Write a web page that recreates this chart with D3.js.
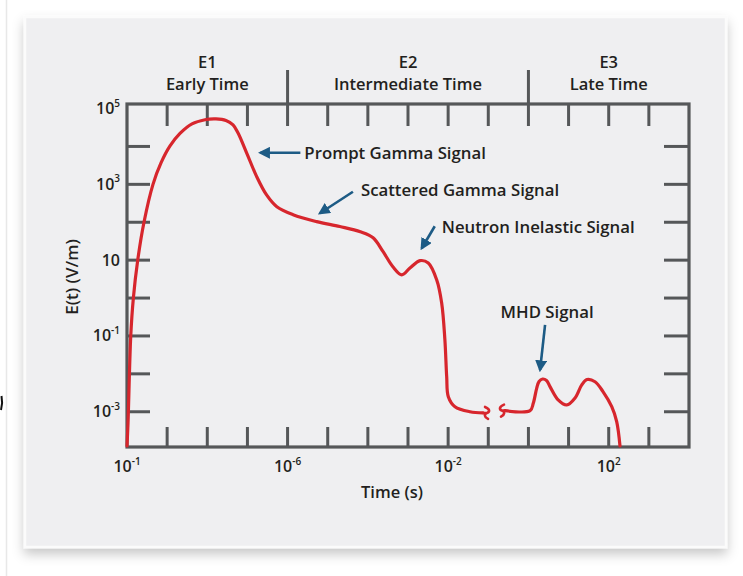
<!DOCTYPE html>
<html>
<head>
<meta charset="utf-8">
<script src="https://cdn.jsdelivr.net/npm/d3@7"></script>
<style>
  html, body { margin: 0; padding: 0; background: #ffffff; }
  svg { display: block; font-family: "Open Sans", "Noto Sans", sans-serif; }
</style>
</head>
<body>
<svg id="chart" width="743" height="576"></svg>
<script>
// Electric field E(t) (V/m) against time (s), drawn in two pieces around the axis break
const earlyTime  = [1.0e-10, 1.06e-10, 1.24e-10, 1.44e-10, 1.85e-10, 2.65e-10, 4.44e-10, 7.03e-10, 1.18e-9, 2.09e-9,
                    4.16e-9, 8.77e-9, 1.65e-8, 2.92e-8, 4.38e-8, 5.8e-8, 9.6e-8, 1.7e-7, 3.0e-7, 5.4e-7,
                    1.37e-6, 5.3e-6, 2.0e-5, 6.5e-5, 1.35e-4, 2.4e-4, 4.2e-4, 7.0e-4, 1.12e-3, 2.0e-3,
                    3.2e-3, 5.2e-3, 6.9e-3, 8.3e-3, 9.2e-3, 1.01e-2, 1.48e-2, 3.5e-2, 7.4e-2];
const earlyField = [1.25e-4, 5.06e-4, 0.1, 1, 10, 100, 1000, 3.67e3, 1.03e4, 2.2e4,
                    3.93e4, 5.07e4, 5.32e4, 4.85e4, 3.69e4, 2.3e4, 6.7e3, 1.6e3, 525, 257,
                    158, 104, 77, 56, 39, 16.7, 6.7, 4.1, 6.2, 9.7,
                    8.4, 3.0, 0.74, 0.079, 8.4e-3, 2.5e-3, 1.36e-3, 1.0e-3, 9.3e-4];
const lateTime   = [0.261, 1.10, 1.32, 1.61, 1.84, 2.25, 2.82, 3.45, 5.5, 9.0,
                    14.5, 21.3, 28.8, 45.6, 72, 119, 158, 191];
const lateField  = [1.07e-3, 1.07e-3, 1.67e-3, 4.2e-3, 6.3e-3, 7.3e-3, 6.7e-3, 4.6e-3, 2.05e-3, 1.51e-3,
                    2.31e-3, 5.1e-3, 7.1e-3, 6.2e-3, 3.4e-3, 1.36e-3, 5.5e-4, 1.25e-4];

// Time periods shown above the plot
const periodCodes  = ["E1", "E2", "E3"];
const periodNames  = ["Early Time", "Intermediate Time", "Late Time"];
const periodBounds = [1e-10, 1e-6, 1, 1e4];

// Tick labels (base and superscript exponent)
const xLabelValues = [1e-10, 1e-6, 1e-2, 1e2];
const xLabelBase   = ["10", "10", "10", "10"];
const xLabelExp    = ["-1", "-6", "-2", "2"];
const yLabelValues = [1e5, 1e3, 10, 1e-1, 1e-3];
const yLabelBase   = ["10", "10", "10", "10", "10"];
const yLabelExp    = ["5", "3", "", "-1", "-3"];

// Annotations: arrow tip at a (time, field) point, text beside the arrow tail
const noteText  = ["Prompt Gamma Signal", "Scattered Gamma Signal", "Neutron Inelastic Signal", "MHD Signal"];
const noteTime  = [2.1e-7, 6.4e-6, 2.2e-3, 1.95];
const noteField = [6.8e3, 173, 20.6, 0.0127];

const W = 743, H = 576;
const frame = { left: 127, right: 689, top: 104, bottom: 447 };
const ink = "#555759", red = "#d7262d", blue = "#1d5b85", textInk = "#231f20";

const svg = d3.select("#chart");
const defs = svg.append("defs");

// Card shadow
const shadow = defs.append("filter").attr("id", "cardShadow")
  .attr("x", "-10%").attr("y", "-10%").attr("width", "120%").attr("height", "125%");
shadow.append("feDropShadow").attr("dx", 0).attr("dy", 6).attr("stdDeviation", 6)
  .attr("flood-color", "#000").attr("flood-opacity", 0.22);

// Arrow head
defs.append("marker").attr("id", "head")
  .attr("viewBox", "0 0 10 10").attr("refX", 8).attr("refY", 5)
  .attr("markerWidth", 4.6).attr("markerHeight", 4.6).attr("markerUnits", "strokeWidth")
  .attr("orient", "auto")
  .append("path").attr("d", "M0,0 L10,5 L0,10 Z").attr("fill", blue);

// Page background details
svg.append("rect").attr("x", 0).attr("y", 0).attr("width", W).attr("height", H).attr("fill", "#ffffff");
svg.append("line").attr("x1", 6.5).attr("x2", 6.5).attr("y1", 0).attr("y2", H)
  .attr("stroke", "#e8e8e8").attr("stroke-width", 1.5);
svg.append("path").attr("d", "M1.5,396 Q3,403 1,410").attr("fill", "none")
  .attr("stroke", "#111").attr("stroke-width", 2);

// Card
svg.append("rect").attr("x", 25).attr("y", 17).attr("width", 701).attr("height", 530)
  .attr("fill", "#efeff1").attr("stroke", "#fbfbfb").attr("stroke-width", 2.5)
  .attr("filter", "url(#cardShadow)");

// Scales
const x = d3.scaleLog().domain([1e-10, 1e4]).range([frame.left, frame.right]);
const y = d3.scaleLog().domain([Math.pow(10, -3.93), Math.pow(10, 5.12)]).range([frame.bottom, frame.top]);

const g = svg.append("g");
const tickLen = 22;

// Decade ticks on all four sides
const xDecades = d3.range(-9, 4).map(e => Math.pow(10, e));
const yDecades = d3.range(-3, 5).map(e => Math.pow(10, e));

g.selectAll(".tick-top").data(xDecades).join("line")
  .attr("x1", d => x(d)).attr("x2", d => x(d))
  .attr("y1", frame.top).attr("y2", frame.top + tickLen)
  .attr("stroke", ink).attr("stroke-width", 3);
g.selectAll(".tick-bottom").data(xDecades).join("line")
  .attr("x1", d => x(d)).attr("x2", d => x(d))
  .attr("y1", frame.bottom).attr("y2", frame.bottom - 20)
  .attr("stroke", ink).attr("stroke-width", 3);
g.selectAll(".tick-left").data(yDecades).join("line")
  .attr("x1", frame.left).attr("x2", frame.left + 23)
  .attr("y1", d => y(d)).attr("y2", d => y(d))
  .attr("stroke", ink).attr("stroke-width", 3);
g.selectAll(".tick-right").data(yDecades).join("line")
  .attr("x1", frame.right).attr("x2", frame.right - 25)
  .attr("y1", d => y(d)).attr("y2", d => y(d))
  .attr("stroke", ink).attr("stroke-width", 3);

// Period dividers above the frame
g.selectAll(".divider").data(periodBounds.slice(1, -1)).join("line")
  .attr("x1", d => x(d)).attr("x2", d => x(d))
  .attr("y1", 70).attr("y2", frame.top)
  .attr("stroke", ink).attr("stroke-width", 3);

// Frame
g.append("rect").attr("x", frame.left).attr("y", frame.top)
  .attr("width", frame.right - frame.left).attr("height", frame.bottom - frame.top)
  .attr("fill", "none").attr("stroke", ink).attr("stroke-width", 3.2);

// Period labels
const periods = periodCodes.map((c, i) => ({
  code: c, name: periodNames[i],
  mid: (x(periodBounds[i]) + x(periodBounds[i + 1])) / 2
}));
const pl = g.selectAll(".period").data(periods).join("text")
  .attr("text-anchor", "middle").attr("fill", textInk)
  .attr("font-size", 16.5).attr("font-weight", 600);
pl.append("tspan").attr("x", d => d.mid).attr("y", 68).text(d => d.code);
pl.append("tspan").attr("x", d => d.mid).attr("y", 90).text(d => d.name);

// Tick labels with superscript exponents
function expLabel(sel, base, exp) {
  sel.append("tspan").text(base);
  sel.append("tspan").attr("font-size", 10).attr("dy", -7.5).text(exp);
}
xLabelValues.forEach((v, i) => {
  const t = g.append("text").attr("x", x(v)).attr("y", 472)
    .attr("text-anchor", "middle").attr("fill", textInk)
    .attr("font-size", 16).attr("font-weight", 600);
  expLabel(t, xLabelBase[i], xLabelExp[i]);
});
yLabelValues.forEach((v, i) => {
  const t = g.append("text").attr("x", 120).attr("y", y(v) + 5.5)
    .attr("text-anchor", "end").attr("fill", textInk)
    .attr("font-size", 16).attr("font-weight", 600);
  expLabel(t, yLabelBase[i], yLabelExp[i]);
});

// Axis titles
g.append("text").attr("x", 392).attr("y", 498).attr("text-anchor", "middle")
  .attr("fill", textInk).attr("font-size", 16.5).attr("font-weight", 600).text("Time (s)");
g.append("text").attr("transform", "translate(78,277) rotate(-90)").attr("text-anchor", "middle")
  .attr("fill", textInk).attr("font-size", 17).attr("font-weight", 600).text("E(t) (V/m)");

// Waveform
const line = d3.line().x(d => x(d[0])).y(d => y(d[1])).curve(d3.curveCatmullRom.alpha(0.5));
const early = earlyTime.map((t, i) => [t, earlyField[i]]);
const late = lateTime.map((t, i) => [t, lateField[i]]);
[early, late].forEach(seg => {
  g.append("path").attr("d", line(seg)).attr("fill", "none")
    .attr("stroke", red).attr("stroke-width", 3.2).attr("stroke-linejoin", "round").attr("stroke-linecap", "round");
});

// Break marks where the curve is interrupted
const eEnd = early[early.length - 1], lStart = late[0];
const bx1 = x(eEnd[0]) + 4, by1 = y(eEnd[1]);
const bx2 = x(lStart[0]) - 3, by2 = y(lStart[1]);
g.append("path")
  .attr("d", `M${bx1 - 4},${by1} L${bx1},${by1} M${bx1 - 2},${by1 - 6} C${bx1 + 3},${by1 - 4} ${bx1 + 3},${by1 - 1} ${bx1},${by1} C${bx1 - 3},${by1 + 1} ${bx1 - 3},${by1 + 4} ${bx1 + 1},${by1 + 6}`)
  .attr("fill", "none").attr("stroke", red).attr("stroke-width", 2.6).attr("stroke-linecap", "round");
g.append("path")
  .attr("d", `M${bx2 + 3},${by2} L${bx2},${by2} M${bx2 + 2},${by2 - 6} C${bx2 - 3},${by2 - 4} ${bx2 - 3},${by2 - 1} ${bx2},${by2} C${bx2 + 3},${by2 + 1} ${bx2 + 3},${by2 + 4} ${bx2 - 1},${by2 + 6}`)
  .attr("fill", "none").attr("stroke", red).attr("stroke-width", 2.6).attr("stroke-linecap", "round");

// Annotations: tail offsets from the tip and text placement relative to the tail
const tailDx = [40, 33, 13, 5], tailDy = [0, -21.5, -22, -45];
const textDx = [4, 8, 7, 2], textDy = [6.5, 4.5, 7, -7];
const textAnchor = ["start", "start", "start", "middle"];
noteText.forEach((txt, i) => {
  const tx = x(noteTime[i]), ty = y(noteField[i]);
  const sx = tx + tailDx[i], sy = ty + tailDy[i];
  g.append("line").attr("x1", sx).attr("y1", sy).attr("x2", tx).attr("y2", ty)
    .attr("stroke", blue).attr("stroke-width", 2.6).attr("marker-end", "url(#head)");
  g.append("text").attr("x", sx + textDx[i]).attr("y", sy + textDy[i])
    .attr("text-anchor", textAnchor[i]).attr("fill", textInk)
    .attr("font-size", 16.8).attr("font-weight", 600).text(txt);
});
</script>
</body>
</html>
